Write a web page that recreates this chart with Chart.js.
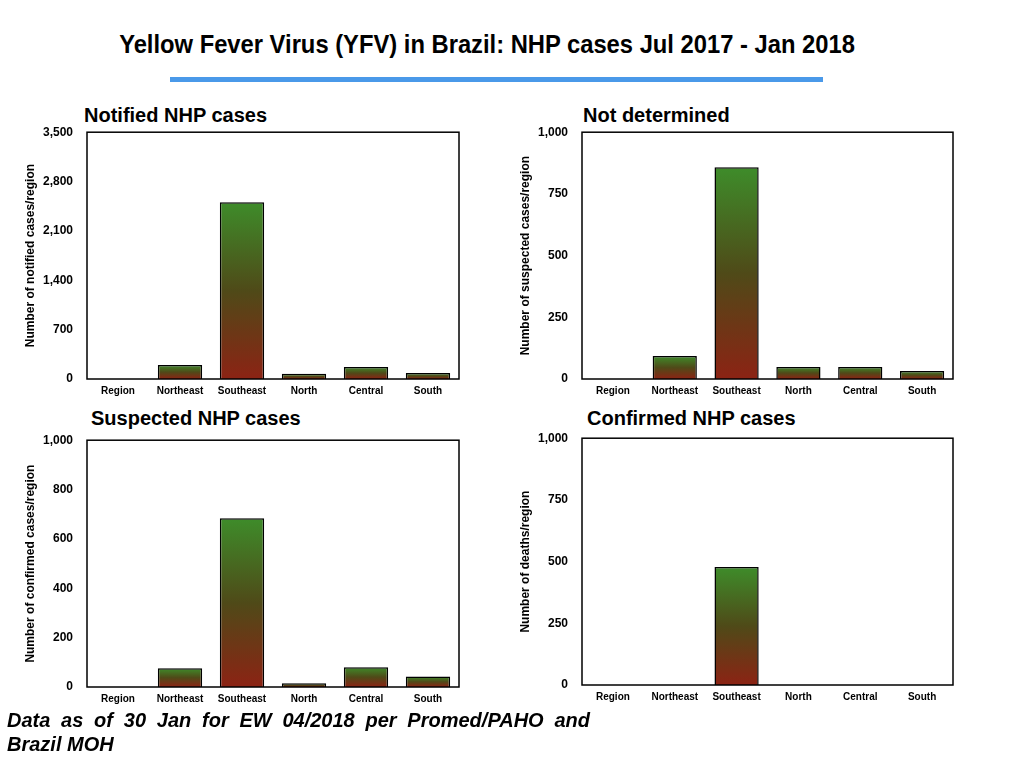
<!DOCTYPE html>
<html>
<head>
<meta charset="utf-8">
<script src="https://cdn.jsdelivr.net/npm/chart.js@4.4.0/dist/chart.umd.min.js"></script>
<style>
  html, body { margin: 0; padding: 0; background: #fff; }
  body { width: 1024px; height: 768px; position: relative; overflow: hidden; font-family: "Liberation Sans", Arial, sans-serif; }
  .main-title { position: absolute; left: 0; width: 974px; top: 30px; text-align: center; font-weight: bold; font-size: 25px; color: #000; transform: scaleX(0.95); transform-origin: 487px 0; }
  .rule { position: absolute; left: 170px; top: 77px; width: 653px; height: 5px; background: #4a99e9; }
  .sub { position: absolute; font-weight: bold; font-size: 20px; color: #000; }
  .box { position: absolute; }
  .note { position: absolute; left: 7px; top: 708px; width: 583px; font-weight: bold; font-style: italic; font-size: 20px; line-height: 24px; }
  .note .l1 { display: block; text-align: justify; text-align-last: justify; }
</style>
</head>
<body>
<div class="main-title">Yellow Fever Virus (YFV) in Brazil: NHP cases Jul 2017 - Jan 2018</div>
<div class="rule"></div>

<div class="sub" style="left:84px; top:104px;">Notified NHP cases</div>
<div class="sub" style="left:583px; top:104px;">Not determined</div>
<div class="sub" style="left:91px; top:407px;">Suspected NHP cases</div>
<div class="sub" style="left:587px; top:407px;">Confirmed NHP cases</div>

<div class="box" style="left:17px; top:111px; width:445px; height:293px;"><canvas id="notifiedChart"></canvas></div>
<div class="box" style="left:512px; top:111px; width:444px; height:293px;"><canvas id="undeterminedChart"></canvas></div>
<div class="box" style="left:17px; top:419px; width:445px; height:293px;"><canvas id="suspectedChart"></canvas></div>
<div class="box" style="left:512px; top:417px; width:444px; height:293px;"><canvas id="confirmedChart"></canvas></div>

<div class="note"><span class="l1">Data as of 30 Jan for EW 04/2018 per Promed/PAHO and</span>Brazil MOH</div>

<script>
// data
var regions = ['Region', 'Northeast', 'Southeast', 'North', 'Central', 'South'];
var notified = [0, 198, 2508, 76, 170, 85];
var notDetermined = [0, 93, 858, 49, 49, 32];
var suspected = [0, 76, 684, 15, 80, 43];
var confirmed = [0, 0, 478, 0, 0, 0];

// green on top fading to red at the base, per bar
function barFill(c) {
  var chart = c.chart;
  if (!chart.chartArea) return '#4f4a1a';
  var y = chart.scales.y;
  var top = y.getPixelForValue(c.raw);
  var base = y.getPixelForValue(0);
  if (base - top < 1) return '#4f4a1a';
  var g = chart.ctx.createLinearGradient(0, top, 0, base);
  g.addColorStop(0, '#3e8c2a');
  g.addColorStop(0.5, '#4f4a18');
  g.addColorStop(1, '#8c2314');
  return g;
}

var frame = {
  id: 'frame',
  afterDatasetsDraw: function (chart) {
    var a = chart.chartArea, ctx = chart.ctx;
    ctx.save();
    ctx.strokeStyle = '#000';
    ctx.lineWidth = 1.5;
    ctx.strokeRect(a.left, a.top, a.right - a.left, a.bottom - a.top);
    ctx.restore();
  }
};

function makeChart(id, values, max, step, yTitle) {
  return new Chart(document.getElementById(id), {
    type: 'bar',
    data: {
      labels: regions,
      datasets: [{
        data: values,
        backgroundColor: barFill,
        borderColor: '#000',
        borderWidth: 1.5,
        categoryPercentage: 1,
        barPercentage: 0.715
      }]
    },
    options: {
      responsive: true,
      maintainAspectRatio: false,
      animation: false,
      layout: { padding: { top: 8, right: 3, left: 0, bottom: 0 } },
      plugins: { legend: { display: false }, tooltip: { enabled: false } },
      scales: {
        x: {
          grid: { display: false, drawTicks: false },
          border: { display: false },
          ticks: { color: '#000', padding: 6, font: { family: 'Liberation Sans', weight: 'bold', size: 10 }, maxRotation: 0 },
          afterFit: function (s) { s.height = 25; }
        },
        y: {
          min: 0,
          max: max,
          grid: { display: false, drawTicks: false },
          border: { display: false },
          ticks: { stepSize: step, color: '#000', padding: 14, font: { family: 'Liberation Sans', weight: 'bold', size: 12 } },
          title: { display: true, text: yTitle, color: '#000', padding: { top: 6, bottom: 0 }, font: { family: 'Liberation Sans', weight: 'bold', size: 12 } },
          afterFit: function (s) { s.width = 70; }
        }
      }
    },
    plugins: [frame]
  });
}

makeChart('notifiedChart', notified, 3500, 700, 'Number of notified cases/region');
makeChart('undeterminedChart', notDetermined, 1000, 250, 'Number of suspected cases/region');
makeChart('suspectedChart', suspected, 1000, 200, 'Number of confirmed cases/region');
makeChart('confirmedChart', confirmed, 1000, 250, 'Number of deaths/region');
</script>
</body>
</html>
